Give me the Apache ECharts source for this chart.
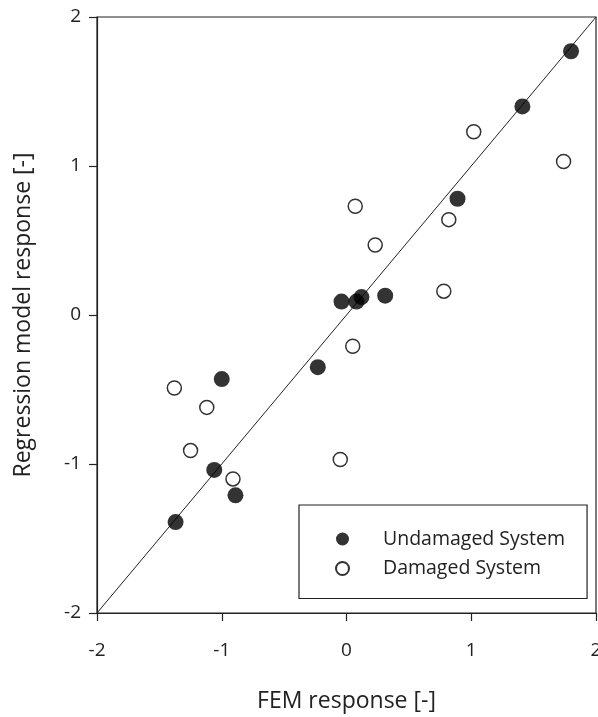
<!DOCTYPE html>
<html>
<head>
<meta charset="utf-8">
<script src="https://cdn.jsdelivr.net/npm/echarts@6/dist/echarts.min.js"></script>
<style>html,body{margin:0;padding:0;background:#fff}#c{width:598px;height:717px}</style>
</head>
<body>
<div id="c"></div>
<script>
// FEM response (x) vs regression model response (y)
const undamagedX = [1.80, 1.41, 0.89, -0.04, 0.08, 0.12, 0.31, -0.23, -1.00, -1.06, -0.89, -1.37];
const undamagedY = [1.77, 1.40, 0.78, 0.09, 0.09, 0.12, 0.13, -0.35, -0.43, -1.04, -1.21, -1.39];
const damagedX = [1.02, 1.74, 0.07, 0.82, 0.23, 0.78, 0.05, -1.38, -1.12, -1.25, -0.05, -0.91];
const damagedY = [1.23, 1.03, 0.73, 0.64, 0.47, 0.16, -0.21, -0.49, -0.62, -0.91, -0.97, -1.10];
const lineX = [-2, 2];
const lineY = [-2, 2];
const ticks = [-2, -1, 0, 1, 2];

const zip = (a, b) => a.map((v, i) => [v, b[i]]);
const FONT = 'Open Sans';

const chart = echarts.init(document.getElementById('c'), null, {renderer: 'canvas'});
chart.setOption({
  animation: false,
  backgroundColor: '#fff',
  grid: {left: 97, right: 2, top: 17, bottom: 104, show: true, borderColor: '#222', borderWidth: 1.2,
         backgroundColor: 'transparent', containLabel: false, outerBoundsMode: 'none'},
  xAxis: {
    type: 'value', min: -2, max: 2, interval: 1,
    name: 'FEM response [-]', nameLocation: 'middle', nameGap: 77,
    nameTextStyle: {fontFamily: FONT, fontSize: 23, color: '#222'},
    axisLine: {show: true, onZero: false, lineStyle: {color: '#222', width: 1.2}},
    axisTick: {show: true, length: 8, lineStyle: {color: '#222', width: 1.2}},
    axisLabel: {fontFamily: FONT, fontSize: 19, color: '#222', margin: 28, formatter: v => ticks.includes(v) ? String(v) : ''},
    splitLine: {show: false}
  },
  yAxis: {
    type: 'value', min: -2, max: 2, interval: 1,
    name: 'Regression model response [-]', nameLocation: 'middle', nameGap: 62,
    nameTextStyle: {fontFamily: FONT, fontSize: 23, color: '#222'},
    axisLine: {show: true, onZero: false, lineStyle: {color: '#222', width: 1.2}},
    axisTick: {show: true, length: 8, lineStyle: {color: '#222', width: 1.2}},
    axisLabel: {fontFamily: FONT, fontSize: 19, color: '#222', margin: 16, formatter: v => ticks.includes(v) ? String(v) : ''},
    splitLine: {show: false}
  },
  legend: {
    orient: 'vertical', left: 299, top: 505,
    borderColor: '#222', borderWidth: 1.2,
    padding: [24, 22, 20, 36], itemGap: 9.5,
    itemWidth: 13, itemHeight: 13,
    textStyle: {fontFamily: FONT, fontSize: 19.5, color: '#222', padding: [0, 0, 0, 29]},
    data: [{name: 'Undamaged System', icon: 'circle'}, {name: 'Damaged System', icon: 'circle'}]
  },
  series: [
    {type: 'line', data: zip(lineX, lineY), symbol: 'none', lineStyle: {color: '#222', width: 1}, silent: true, z: 1},
    {name: 'Undamaged System', type: 'scatter', data: zip(undamagedX, undamagedY), symbol: 'circle', symbolSize: 16,
     itemStyle: {color: '#000'}, z: 3},
    {name: 'Damaged System', type: 'scatter', data: zip(damagedX, damagedY), symbol: 'circle', symbolSize: 14,
     itemStyle: {color: '#fff', borderColor: '#000', borderWidth: 1.5}, z: 3}
  ]
});
</script>
</body>
</html>
